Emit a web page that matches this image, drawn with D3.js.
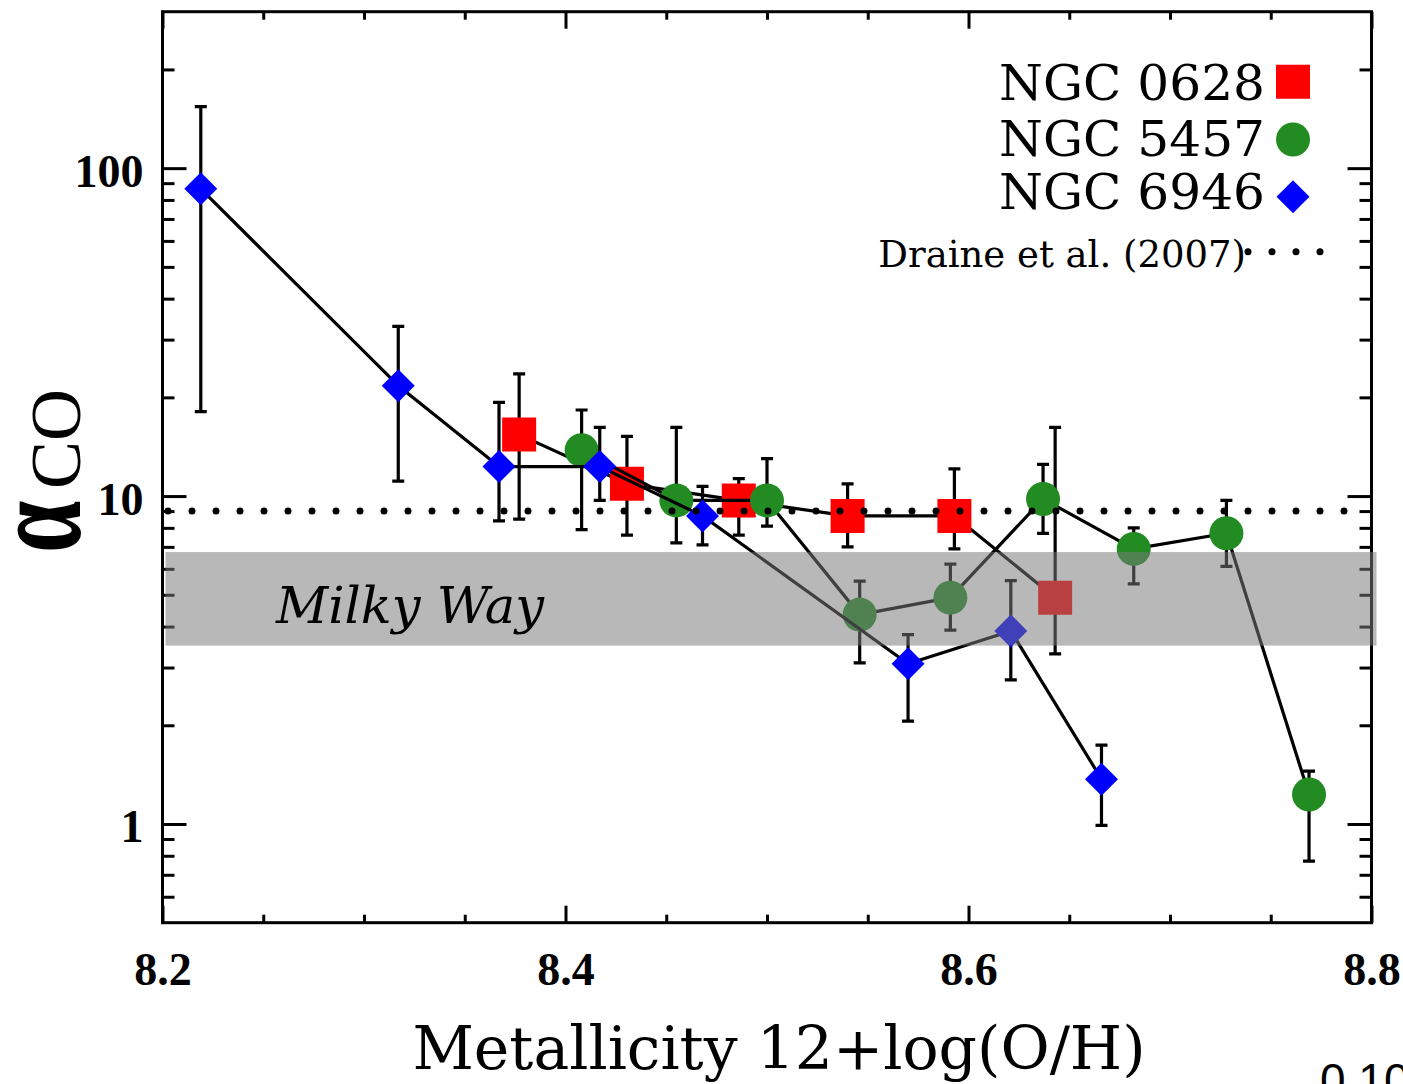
<!DOCTYPE html>
<html>
<head>
<meta charset="utf-8">
<script src="https://cdn.jsdelivr.net/npm/d3@7"></script>
<style>
  html, body { margin: 0; padding: 0; background: #fff; }
  svg { display: block; }
</style>
</head>
<body>
<script>
// ---- data: metallicity 12+log(O/H) vs alpha_CO, per galaxy ----
const ngc0628_z  = [8.377, 8.4305, 8.486, 8.540, 8.593, 8.643];
const ngc0628_a  = [15.4, 10.9, 9.7, 8.7, 8.7, 4.9];
const ngc0628_lo = [8.5, 7.6, 7.6, 7.0, 6.9, 3.3];
const ngc0628_hi = [23.6, 15.2, 11.3, 10.9, 12.1, 16.2];

const ngc5457_z  = [8.408, 8.455, 8.500, 8.546, 8.591, 8.637, 8.682, 8.728, 8.769];
const ngc5457_a  = [13.8, 9.7, 9.7, 4.35, 4.9, 9.8, 6.9, 7.7, 1.23];
const ngc5457_lo = [7.9, 7.2, 8.1, 3.1, 3.9, 7.7, 5.4, 6.1, 0.77];
const ngc5457_hi = [18.3, 16.2, 13.0, 5.5, 6.2, 12.5, 8.0, 9.7, 1.45];

const ngc6946_z  = [8.219, 8.317, 8.367, 8.417, 8.468, 8.570, 8.621, 8.666];
const ngc6946_a  = [86.5, 21.7, 12.3, 12.3, 8.7, 3.08, 3.88, 1.37];
const ngc6946_lo = [18.1, 11.1, 8.4, 9.7, 7.1, 2.06, 2.75, 0.99];
const ngc6946_hi = [154, 32.9, 19.3, 16.2, 10.7, 3.78, 5.52, 1.74];

const draineValue = 9.0;           // Draine et al. (2007)
const milkyWayRange = [3.5, 6.75]; // Milky Way band

const seriesNames = ["NGC 0628", "NGC 5457", "NGC 6946"];
const seriesColors = ["#ff0000", "#228b22", "#0000ff"];

const xDomain = [8.2, 8.8];
const yDomain = [0.5, 300];
const xMajorTicks = [8.2, 8.4, 8.6, 8.8];
const xTickLabels = ["8.2", "8.4", "8.6", "8.8"];
const xMinorTicks = [8.25, 8.3, 8.35, 8.45, 8.5, 8.55, 8.65, 8.7, 8.75];
const yMajorTicks = [1, 10, 100];
const yTickLabels = ["1", "10", "100"];
const yMinorTicks = [0.6, 0.7, 0.8, 0.9, 2, 3, 4, 5, 6, 7, 8, 9, 20, 30, 40, 50, 60, 70, 80, 90, 200];

// ---- layout ----
const W = 1403, H = 1084;
const svg = d3.select("body").append("svg").attr("width", W).attr("height", H);

const x = d3.scaleLinear().domain(xDomain).range([162.5, 1371.5]);
const y = d3.scaleLog().domain(yDomain).range([922.7, 11.7]);

const tickFont = "'Liberation Serif', 'Times New Roman', serif";
const textFont = "'DejaVu Serif', serif";

// ---- axes (ticks point inward on all four sides) ----
function styleAxis(g) {
  g.select(".domain").remove();
  g.selectAll(".tick line").attr("stroke", "#000").attr("stroke-width", 3);
  g.selectAll(".tick text").attr("fill", "#000")
    .style("font-family", tickFont).style("font-weight", "bold").style("font-size", "46px");
}
const axesG = svg.append("g");

// bottom
axesG.append("g").attr("transform", `translate(0,${y.range()[0]})`)
  .call(d3.axisBottom(x).tickValues(xMajorTicks).tickSize(-17).tickPadding(30)
    .tickFormat((d, i) => xTickLabels[i]))
  .call(styleAxis);
axesG.append("g").attr("transform", `translate(0,${y.range()[0]})`)
  .call(d3.axisBottom(x).tickValues(xMinorTicks).tickSize(-8).tickFormat(""))
  .call(styleAxis);
// top
axesG.append("g").attr("transform", `translate(0,${y.range()[1]})`)
  .call(d3.axisTop(x).tickValues(xMajorTicks).tickSize(-17).tickFormat(""))
  .call(styleAxis);
axesG.append("g").attr("transform", `translate(0,${y.range()[1]})`)
  .call(d3.axisTop(x).tickValues(xMinorTicks).tickSize(-8).tickFormat(""))
  .call(styleAxis);
// left
axesG.append("g").attr("transform", `translate(${x.range()[0]},0)`)
  .call(d3.axisLeft(y).tickValues(yMajorTicks).tickSize(-24).tickPadding(19)
    .tickFormat((d, i) => yTickLabels[i]))
  .call(styleAxis)
  .call(g => g.selectAll(".tick text").attr("dy", "0.39em"));
axesG.append("g").attr("transform", `translate(${x.range()[0]},0)`)
  .call(d3.axisLeft(y).tickValues(yMinorTicks).tickSize(-12).tickFormat(""))
  .call(styleAxis);
// right
axesG.append("g").attr("transform", `translate(${x.range()[1]},0)`)
  .call(d3.axisRight(y).tickValues(yMajorTicks).tickSize(-24).tickFormat(""))
  .call(styleAxis);
axesG.append("g").attr("transform", `translate(${x.range()[1]},0)`)
  .call(d3.axisRight(y).tickValues(yMinorTicks).tickSize(-12).tickFormat(""))
  .call(styleAxis);

// frame
axesG.append("rect")
  .attr("x", x.range()[0]).attr("y", y.range()[1])
  .attr("width", x.range()[1] - x.range()[0]).attr("height", y.range()[0] - y.range()[1])
  .attr("fill", "none").attr("stroke", "#000").attr("stroke-width", 3);

// ---- markers ----
const symbolFor = [
  d3.symbol(d3.symbolSquare, 34 * 34),
  d3.symbol(d3.symbolCircle, Math.PI * 17 * 17),
  d3.symbol(d3.symbolSquare, 23.3 * 23.3)
];
const symbolRotate = [0, 0, 45];

function drawSeries(z, a, lo, hi, k) {
  const g = svg.append("g");
  const pts = d3.zip(z, a);
  g.append("path").datum(pts)
    .attr("d", d3.line().x(d => x(d[0])).y(d => y(d[1])))
    .attr("fill", "none").attr("stroke", "#000").attr("stroke-width", 3.2)
    .attr("stroke-linejoin", "round");
  const idx = d3.range(z.length);
  g.selectAll("path.err").data(idx).join("path").attr("class", "err")
    .attr("d", i => {
      const cx = x(z[i]), y0 = y(lo[i]), y1 = y(hi[i]);
      return `M${cx},${y0}V${y1}M${cx - 6},${y0}h12M${cx - 6},${y1}h12`;
    })
    .attr("fill", "none").attr("stroke", "#000").attr("stroke-width", 3.2);
  g.selectAll("path.mk").data(idx).join("path").attr("class", "mk")
    .attr("d", symbolFor[k]())
    .attr("transform", i => `translate(${x(z[i])},${y(a[i])}) rotate(${symbolRotate[k]})`)
    .attr("fill", seriesColors[k]);
}
drawSeries(ngc0628_z, ngc0628_a, ngc0628_lo, ngc0628_hi, 0);
drawSeries(ngc5457_z, ngc5457_a, ngc5457_lo, ngc5457_hi, 1);
drawSeries(ngc6946_z, ngc6946_a, ngc6946_lo, ngc6946_hi, 2);

// ---- Milky Way band (translucent, over the data) ----
svg.append("rect")
  .attr("x", x.range()[0] + 3)
  .attr("y", y(milkyWayRange[1]))
  .attr("width", x.range()[1] - x.range()[0] + 2)
  .attr("height", y(milkyWayRange[0]) - y(milkyWayRange[1]))
  .attr("fill", "#797979").attr("fill-opacity", 0.53);

svg.append("text")
  .attr("x", 276).attr("y", 623)
  .style("font-family", textFont).style("font-style", "italic").style("font-size", "51px")
  .attr("fill", "#000").text("Milky Way");

// ---- Draine et al. (2007) dotted level ----
const dotted = { "stroke": "#000", "stroke-width": 7, "stroke-linecap": "round", "stroke-dasharray": "0,24" };
const dl = svg.append("line")
  .attr("x1", x.range()[0] + 5.5).attr("x2", x.range()[1] - 24)
  .attr("y1", y(draineValue)).attr("y2", y(draineValue));
Object.entries(dotted).forEach(([k, v]) => dl.attr(k, v));

// ---- legend ----
const legend = svg.append("g");
const legendBase = [100, 155.5, 209];
const legendMarkY = [81.8, 139.5, 196.7];
seriesNames.forEach((name, k) => {
  legend.append("text")
    .attr("x", 1265).attr("y", legendBase[k]).attr("text-anchor", "end")
    .attr("textLength", 266).attr("lengthAdjust", "spacingAndGlyphs")
    .style("font-family", textFont).style("font-size", "48px")
    .attr("fill", "#000").text(name);
  legend.append("path")
    .attr("d", symbolFor[k]())
    .attr("transform", `translate(1293,${legendMarkY[k]}) rotate(${symbolRotate[k]})`)
    .attr("fill", seriesColors[k]);
});
legend.append("text")
  .attr("x", 1246).attr("y", 266.7).attr("text-anchor", "end")
  .style("font-family", textFont).style("font-size", "37px")
  .attr("fill", "#000").text("Draine et al. (2007)");
const ll = legend.append("line")
  .attr("x1", 1248).attr("x2", 1321).attr("y1", 251.7).attr("y2", 251.7);
Object.entries(dotted).forEach(([k, v]) => ll.attr(k, v));

// ---- axis titles ----
svg.append("text")
  .attr("x", 779).attr("y", 1069).attr("text-anchor", "middle")
  .style("font-family", textFont).style("font-size", "60px")
  .attr("fill", "#000").text("Metallicity 12+log(O/H)");

// rotated alpha_CO: the alpha is set taller than the subscript font allows
svg.append("text")
  .attr("transform", "translate(80,553) rotate(-90) scale(1,1.4)")
  .style("font-family", tickFont).style("font-size", "94px").style("font-weight", "bold")
  .attr("fill", "#000").text("α");
svg.append("text")
  .attr("transform", "translate(80,489) rotate(-90)")
  .style("font-family", tickFont).style("font-size", "72px")
  .attr("fill", "#000").text("CO");

// neighbouring panel label, cut by the page edge
svg.append("text")
  .attr("x", 1320).attr("y", 1096)
  .style("font-family", "'Liberation Sans', Arial, sans-serif").style("font-size", "46px")
  .attr("fill", "#000").text("0.10");
</script>
</body>
</html>
